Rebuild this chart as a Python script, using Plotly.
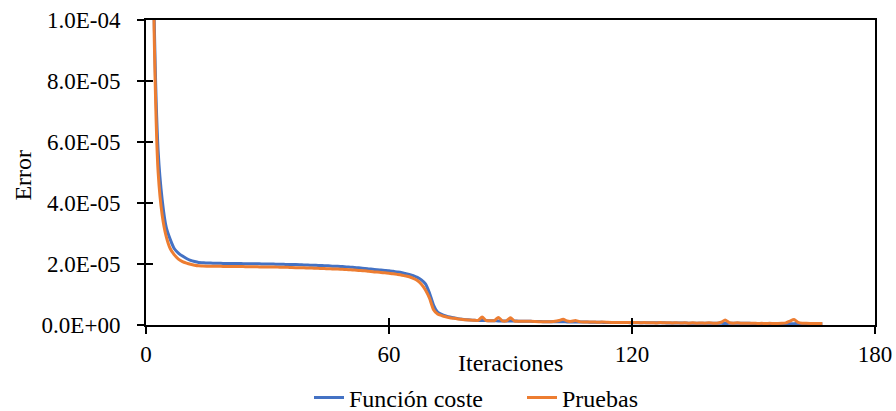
import numpy as np
import plotly.graph_objects as go

# Iteration index and error values (stored in units of 1e-6)
iteraciones = list(range(1, 168))

funcion_coste_e6 = [
    250, 102, 57, 41, 32, 28, 25, 23.6, 22.6, 21.8,
    21.2, 20.8, 20.5, 20.4, 20.3, 20.3, 20.25, 20.25, 20.2, 20.2,
    20.2, 20.15, 20.15, 20.1, 20.1, 20.1, 20.05, 20.05, 20.0, 20.0,
    20.0, 19.95, 19.95, 19.9, 19.85, 19.8, 19.8, 19.75, 19.7, 19.65,
    19.6, 19.55, 19.5, 19.45, 19.4, 19.3, 19.25, 19.2, 19.1, 19.0,
    18.9, 18.8, 18.7, 18.55, 18.4, 18.3, 18.15, 18.0, 17.9, 17.8,
    17.6, 17.4, 17.2, 16.9, 16.6, 16.2, 15.6, 14.8, 13.5, 10.5,
    6.5, 4.2, 3.5, 3.0, 2.6, 2.4, 2.1, 1.9, 1.75, 1.65,
    1.55, 1.5, 1.45, 1.45, 1.4, 1.4, 1.35, 1.35, 1.3, 1.3,
    1.3, 1.25, 1.25, 1.2, 1.2, 1.15, 1.15, 1.1, 1.1, 1.1,
    1.05, 1.05, 1.05, 1.0, 1.0, 1.0, 0.95, 0.95, 0.95, 0.9,
    0.9, 0.9, 0.85, 0.85, 0.85, 0.8, 0.8, 0.8, 0.8, 0.75,
    0.75, 0.75, 0.75, 0.7, 0.7, 0.7, 0.7, 0.7, 0.65, 0.65,
    0.65, 0.65, 0.65, 0.6, 0.6, 0.6, 0.6, 0.6, 0.6, 0.6,
    0.55, 0.55, 0.5, 0.55, 0.55, 0.55, 0.55, 0.55, 0.55, 0.5,
    0.5, 0.5, 0.5, 0.5, 0.5, 0.5, 0.5, 0.5, 0.45, 0.45,
    0.5, 0.5, 0.5, 0.45, 0.45, 0.45, 0.45,
]

pruebas_e6 = [
    240, 97, 50, 36, 29, 25, 23, 21.6, 20.8, 20.3,
    19.9, 19.6, 19.4, 19.35, 19.3, 19.3, 19.25, 19.25, 19.2, 19.2,
    19.2, 19.2, 19.15, 19.15, 19.1, 19.1, 19.1, 19.05, 19.05, 19.0,
    19.0, 19.0, 18.95, 18.95, 18.9, 18.85, 18.8, 18.8, 18.75, 18.7,
    18.65, 18.6, 18.55, 18.5, 18.45, 18.4, 18.35, 18.3, 18.2, 18.15,
    18.05, 17.95, 17.85, 17.75, 17.6, 17.5, 17.35, 17.2, 17.1, 16.95,
    16.8, 16.6, 16.4, 16.1, 15.8, 15.3, 14.6, 13.4, 11.5, 8.8,
    5.0, 3.6, 3.1, 2.7, 2.4, 2.2, 2.0, 1.85, 1.7, 1.6,
    1.55, 1.5, 2.6, 1.45, 1.4, 1.4, 2.5, 1.35, 1.35, 2.4,
    1.3, 1.25, 1.25, 1.2, 1.2, 1.15, 1.1, 1.1, 1.1, 1.1,
    1.2, 1.5, 1.9, 1.3, 1.2, 1.5, 1.1, 1.0, 1.0, 1.0,
    0.95, 0.9, 1.0, 0.9, 0.85, 0.85, 0.8, 0.85, 0.8, 0.8,
    0.85, 0.75, 0.8, 0.7, 0.75, 0.65, 0.8, 0.7, 0.75, 0.65,
    0.75, 0.65, 0.7, 0.6, 0.7, 0.6, 0.65, 0.6, 0.7, 0.6,
    0.6, 0.9, 1.6, 0.8, 0.6, 0.7, 0.55, 0.6, 0.55, 0.6,
    0.5, 0.55, 0.5, 0.55, 0.5, 0.5, 0.55, 0.7, 1.3, 1.8,
    0.9, 0.6, 0.55, 0.5, 0.5, 0.5, 0.5,
]

x_ticks = [0, 60, 120, 180]
y_ticks = [0, 2e-5, 4e-5, 6e-5, 8e-5, 1e-4]
y_tick_text = ["0.0E+00", "2.0E-05", "4.0E-05", "6.0E-05", "8.0E-05", "1.0E-04"]

coste = np.array(funcion_coste_e6) * 1e-6
pruebas = np.array(pruebas_e6) * 1e-6

FONT = '"Liberation Serif", "Times New Roman", serif'
BLUE = "#4472C4"
ORANGE = "#ED7D31"
tick_font = dict(family=FONT, size=23, color="black")
text_font = dict(family=FONT, size=24, color="black")

fig = go.Figure()
fig.add_trace(go.Scatter(
    x=iteraciones, y=coste, mode="lines", name="Función coste",
    line=dict(color=BLUE, width=3, shape="spline", smoothing=0.5),
    legend="legend",
))
fig.add_trace(go.Scatter(
    x=iteraciones, y=pruebas, mode="lines", name="Pruebas",
    line=dict(color=ORANGE, width=3, shape="spline", smoothing=0.5),
    legend="legend2",
))
# invisible trace so the overlay axes (inner half of the crossing ticks) are drawn
fig.add_trace(go.Scatter(
    x=[None], y=[None], xaxis="x2", yaxis="y2", showlegend=False,
    hoverinfo="skip", mode="lines",
))

axis_common = dict(showgrid=False, zeroline=False, tickcolor="black",
                   tickwidth=1.5, ticklen=7, automargin=False,
                   tickfont=tick_font)

legend_common = dict(
    orientation="h", xref="container", xanchor="left",
    y=(411 - 398) / 411, yref="container", yanchor="middle",
    font=text_font, bgcolor="rgba(0,0,0,0)", itemwidth=30,
)

fig.update_layout(
    template="none",
    width=896, height=411,
    margin=dict(l=146, r=21, t=20, b=86),
    paper_bgcolor="white", plot_bgcolor="white",
    font=dict(family=FONT, size=23, color="black"),
    xaxis=dict(
        range=[0, 180], tickvals=x_ticks, ticks="outside",
        showline=True, linecolor="black", linewidth=2, mirror=True,
        ticklabelstandoff=0, **axis_common,
    ),
    yaxis=dict(
        range=[0, 1e-4], tickvals=y_ticks, ticktext=y_tick_text,
        ticks="outside", showline=True, linecolor="black", linewidth=2,
        mirror=True, ticklabelstandoff=12, **axis_common,
    ),
    xaxis2=dict(
        range=[0, 180], tickvals=x_ticks, ticks="inside", overlaying="x",
        anchor="y2", showticklabels=False, showline=False, **axis_common,
    ),
    yaxis2=dict(
        range=[0, 1e-4], tickvals=y_ticks, ticks="inside", overlaying="y",
        anchor="x2", showticklabels=False, showline=False, **axis_common,
    ),
    legend=dict(x=309 / 896, **legend_common),
    legend2=dict(x=522 / 896, **legend_common),
    annotations=[
        dict(text="Iteraciones", x=0.5, y=-0.125, xref="paper", yref="paper",
             xanchor="center", yanchor="middle", showarrow=False,
             font=text_font),
        dict(text="Error", x=-0.170, y=0.49, xref="paper", yref="paper",
             xanchor="center", yanchor="middle", textangle=-90,
             showarrow=False, font=text_font),
    ],
)

fig.write_html("out.html")
